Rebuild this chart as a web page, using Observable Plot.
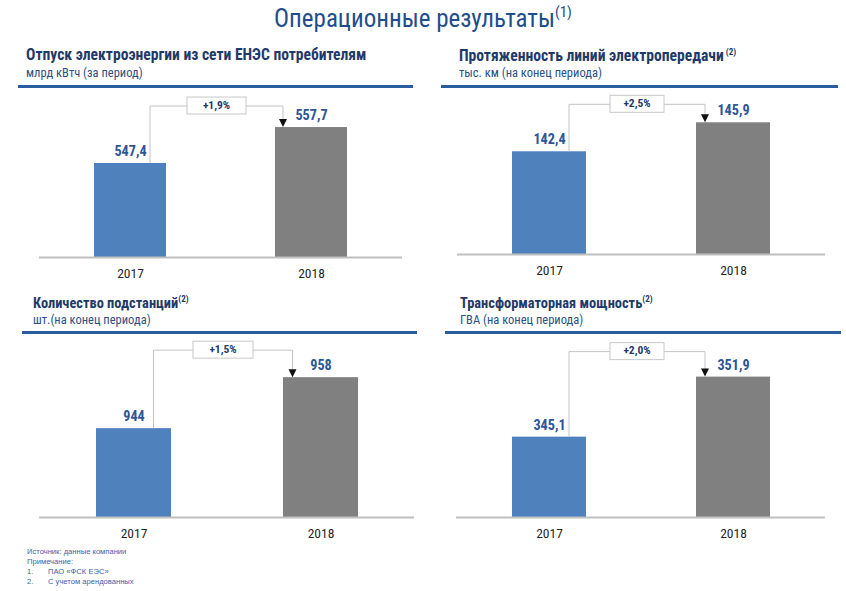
<!DOCTYPE html>
<html><head><meta charset="utf-8">
<script src="https://cdn.jsdelivr.net/npm/d3@7"></script>
<script src="https://cdn.jsdelivr.net/npm/@observablehq/plot@0.6"></script>
<style>
html,body{margin:0;padding:0;background:#fff;}
#root{position:relative;width:846px;height:591px;overflow:hidden;font-family:"Roboto Condensed","Arial Narrow","Liberation Sans",sans-serif;}
.abs{position:absolute;white-space:nowrap;line-height:1;}
.main{left:0;width:846px;text-align:center;top:5px;font-size:25px;color:#1F4E8C;}
.main sup{font-size:15px;vertical-align:10px;}
.ptitle{font-weight:bold;color:#1F3A68;}
.ptitle sup{font-size:9px;vertical-align:6px;}
.psub{font-size:12.5px;color:#2C4F86;}
.rule{position:absolute;height:3px;background:#2A5CA0;}
.foot{font-size:7.6px;color:#3A62A8;font-family:"Liberation Sans",Arial,sans-serif;}
.plot{position:absolute;}
.plot text{font-family:"Roboto Condensed","Arial Narrow","Liberation Sans",sans-serif;}
</style></head>
<body><div id="root"></div>
<script>
// ---- data ----
const years = ["2017", "2018"];
const titles = [
  "Отпуск электроэнергии из сети ЕНЭС потребителям",
  "Протяженность линий электропередачи",
  "Количество подстанций",
  "Трансформаторная мощность"
];
const titleNotes = ["", " (2)", "(2)", "(2)"];
const subtitles = [
  "млрд кВтч (за период)",
  "тыс. км (на конец периода)",
  "шт.(на конец периода)",
  "ГВА (на конец периода)"
];
const electricity = [547.4, 557.7];
const lineLength = [142.4, 145.9];
const substations = [944, 958];
const capacity = [345.1, 351.9];
const valueLabels = [["547,4", "557,7"], ["142,4", "145,9"], ["944", "958"], ["345,1", "351,9"]];
const growthLabels = ["+1,9%", "+2,5%", "+1,5%", "+2,0%"];
const yDomains = [[520.5, 568.3], [130.0, 149.8], [919.6, 969.3], [336.0, 356.5]];
const barColors = ["#4F81BD", "#808080"];
const mainTitle = "Операционные результаты";
const footnotes = ["Источник: данные компании", "Примечание:"];
const notes = [["1.", "ПАО «ФСК ЕЭС»"], ["2.", "С учетом арендованных"]];

const series = [electricity, lineLength, substations, capacity];
const FONT = "'Roboto Condensed','Arial Narrow','Liberation Sans',sans-serif";

// ---- layout ----
const layout = [
  {left: 0, titleX: 26, titleTop: 48, titleSize: 15.6, ruleY: 85, ruleX1: 18, ruleX2: 413, svgTop: 90, base: 257, ml: 39, mr: 21, rise: 21, boxW: 59},
  {left: 423, titleX: 459, titleTop: 48, titleSize: 15.6, ruleY: 85, ruleX1: 441, ruleX2: 838, svgTop: 90, base: 254, ml: 34, mr: 21, rise: 18, boxW: 54},
  {left: 0, titleX: 33, titleTop: 295, titleSize: 14.4, ruleY: 331, ruleX1: 22, ruleX2: 417, svgTop: 336, base: 517, ml: 39, mr: 9, rise: 27, boxW: 60},
  {left: 423, titleX: 460, titleTop: 295, titleSize: 14.4, ruleY: 331, ruleX1: 445, ruleX2: 841, svgTop: 336, base: 517, ml: 33, mr: 21, rise: 25, boxW: 54}
];

const root = document.getElementById("root");
function add(cls, html, style) {
  const d = document.createElement("div");
  d.className = cls;
  d.innerHTML = html;
  Object.assign(d.style, style || {});
  root.appendChild(d);
  return d;
}
add("abs main", mainTitle + "<sup>(1)</sup>");

function bracket(vals, label, L) {
  return (index, scales) => {
    const x = scales.x, y = scales.y;
    const bw = x.bandwidth ? x.bandwidth() : 0;
    const x1 = x(years[0]) + bw / 2 + 20;
    const x2 = x(years[1]) + bw / 2 - 28;
    const yA = y(vals[0]), yB = y(vals[1]);
    const yt = yB - L.rise;
    const g = d3.create("svg:g");
    g.append("path").attr("d", `M${x1},${yA}V${yt}H${x2}V${yB - 7}`)
      .attr("fill", "none").attr("stroke", "#C4C4C4").attr("stroke-width", 1);
    g.append("path").attr("d", `M${x2 - 4},${yB - 8}L${x2 + 4},${yB - 8}L${x2},${yB}Z`).attr("fill", "#111");
    const cx = (x1 + x2) / 2;
    g.append("rect").attr("x", cx - L.boxW / 2).attr("y", yt - 9).attr("width", L.boxW).attr("height", 17)
      .attr("fill", "#fff").attr("stroke", "#C8C8C8");
    g.append("text").attr("x", cx).attr("y", yt - 0.5).attr("text-anchor", "middle").attr("dominant-baseline", "middle")
      .attr("font-size", 11.5).attr("font-weight", "bold").attr("font-family", FONT).attr("fill", "#1F3A68").text(label);
    return g.node();
  };
}

series.forEach((vals, i) => {
  const L = layout[i];
  add("abs ptitle", titles[i] + (titleNotes[i] ? "<sup>" + titleNotes[i] + "</sup>" : ""), {left: L.titleX + "px", top: L.titleTop + "px", fontSize: L.titleSize + "px"});
  add("abs psub", subtitles[i], {left: L.titleX + "px", top: (L.titleTop + 19) + "px"});
  const r = document.createElement("div");
  r.className = "rule";
  Object.assign(r.style, {left: L.ruleX1 + "px", width: (L.ruleX2 - L.ruleX1) + "px", top: L.ruleY + "px"});
  root.appendChild(r);

  const data = years.map((yr, j) => ({year: yr, value: vals[j], label: valueLabels[i][j]}));
  const y0 = yDomains[i][0];
  const height = L.base - L.svgTop + 32;
  const svg = Plot.plot({
    width: 423,
    height,
    marginLeft: L.ml,
    marginRight: L.mr,
    marginTop: 0,
    marginBottom: 32,
    style: {background: "transparent", overflow: "visible"},
    x: {type: "band", domain: years, paddingInner: 0.6, paddingOuter: 0.3, label: null},
    y: {domain: yDomains[i], axis: null},
    marks: [
      Plot.barY(data, {x: "year", y1: y0, y2: "value", fill: (d) => barColors[years.indexOf(d.year)]}),
      Plot.ruleY([y0], {stroke: "#BFBFBF", strokeWidth: 2}),
      Plot.axisX({tickSize: 0, tickPadding: 11, fontSize: 13.5, color: "#262626", label: null, fontFamily: FONT}),
      Plot.text(data, {x: "year", y: "value", text: "label", dy: -12, fontSize: 14.2, fontWeight: "bold", fill: "#2E5597", fontFamily: FONT}),
      bracket(vals, growthLabels[i], L)
    ]
  });
  svg.classList.add("plot");
  Object.assign(svg.style, {left: L.left + "px", top: L.svgTop + "px"});
  root.appendChild(svg);
});

add("abs foot", footnotes[0], {left: "27px", top: "548px"});
add("abs foot", footnotes[1], {left: "27px", top: "558px"});
notes.forEach((n, k) => {
  add("abs foot", n[0], {left: "27px", top: (568 + k * 10) + "px"});
  add("abs foot", n[1], {left: "48px", top: (568 + k * 10) + "px"});
});
</script></body></html>
